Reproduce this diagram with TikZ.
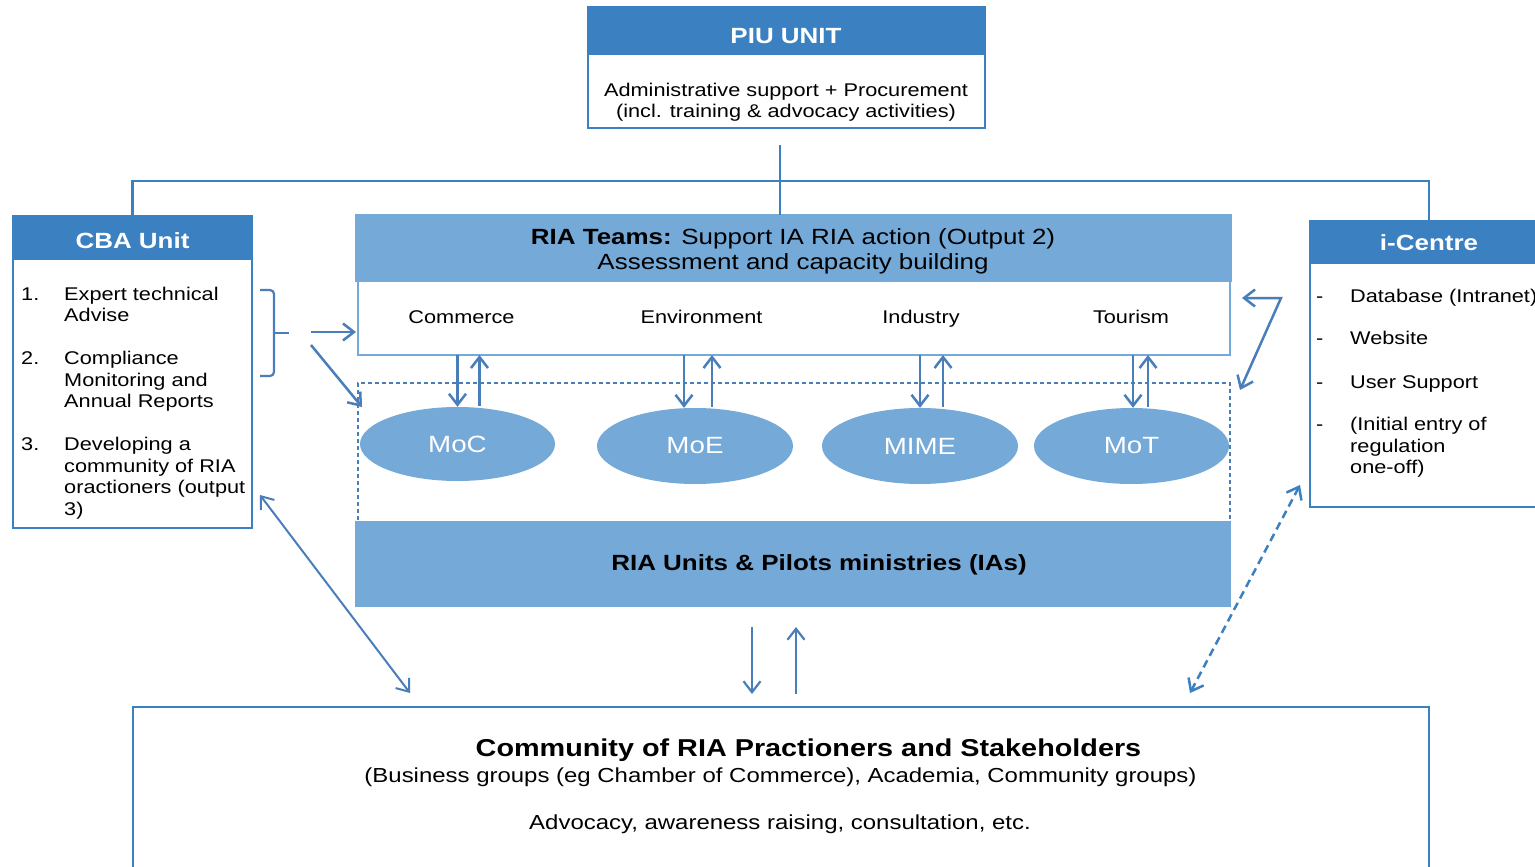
\documentclass[tikz,border=0pt]{standalone}
\usepackage{fontspec}
\setmainfont[FakeStretch=1.18]{Liberation Sans}
\usetikzlibrary{arrows.meta,shapes.geometric,calc}
\definecolor{hdr}{RGB}{59,128,193}
\definecolor{lite}{RGB}{117,169,215}
\definecolor{lnc}{RGB}{74,126,187}
\begin{document}
\begin{tikzpicture}[x=1pt,y=-1pt,
  box/.style={draw=hdr, line width=2.5pt, anchor=north west, inner sep=0pt, outer sep=0pt, fill=white},
  hbox/.style={box, fill=hdr},
  tree/.style={draw=hdr, line width=2.5pt},
  arr/.style={draw=lnc, line width=2.5pt, -{Straight Barb[length=11pt,width=17pt]}},
  arrb/.style={draw=lnc, line width=2.5pt, {Straight Barb[length=11pt,width=17pt]}-{Straight Barb[length=11pt,width=17pt]}},
  ell/.style={ellipse, fill=lite, draw=none, inner sep=0pt, text=white, font=\fontsize{23.5}{26}\selectfont},
  txt/.style={inner sep=0pt, font=\fontsize{18.4}{21.5}\selectfont},
  htxt/.style={inner sep=0pt, text=white, font=\bfseries\fontsize{22}{26}\selectfont},
  rtxt/.style={inner sep=0pt, font=\fontsize{22}{25}\selectfont},
  ctxt/.style={inner sep=0pt, font=\fontsize{20.3}{24}\selectfont}
]
\clip (0,0) rectangle (1535,867);
\fill[white] (0,0) rectangle (1535,867);

% PIU
\node[hbox, minimum width=397pt, minimum height=47pt] (piuh) at (588,7) {};
\node[box, minimum width=397pt, minimum height=74pt] (piub) at (588,54) {};
\node[htxt, anchor=base] (piut) at (786,44) {PIU UNIT};
\node[txt, anchor=base] (piu1) at (786,96.6) {Administrative support + Procurement};
\node[txt, anchor=base] (piu2) at (786,117.6) {(incl. training \& advocacy activities)};

% CBA
\node[hbox, minimum width=239pt, minimum height=43pt] (cbah) at (13,216) {};
\node[box, minimum width=239pt, minimum height=269pt] (cbab) at (13,259) {};
\node[htxt, anchor=base] (cbat) at (132.5,248) {CBA Unit};
\node[txt, anchor=base west] (cn1) at (21,300.6) {1.};
\node[txt, anchor=base west] (c11) at (64,300.6) {Expert technical};
\node[txt, anchor=base west] (c12) at (64,321.6) {Advise};
\node[txt, anchor=base west] (cn2) at (21,364.6) {2.};
\node[txt, anchor=base west] (c21) at (64,364.6) {Compliance};
\node[txt, anchor=base west] (c22) at (64,386.6) {Monitoring and};
\node[txt, anchor=base west] (c23) at (64,407.6) {Annual Reports};
\node[txt, anchor=base west] (cn3) at (21,450.6) {3.};
\node[txt, anchor=base west] (c31) at (64,450.6) {Developing a};
\node[txt, anchor=base west] (c32) at (64,472.2) {community of RIA};
\node[txt, anchor=base west] (c33) at (64,493.8) {oractioners (output};
\node[txt, anchor=base west] (c34) at (64,515.4) {3)};

% i-Centre
\node[hbox, minimum width=238pt, minimum height=42pt] (icenh) at (1310,221) {};
\node[box, minimum width=238pt, minimum height=244pt] (icenb) at (1310,263) {};
\node[htxt, anchor=base] (icent) at (1429,250) {i-Centre};
\node[txt, anchor=base west] (id1) at (1316,302.6) {-};
\node[txt, anchor=base west] (i1) at (1350,302.6) {Database (Intranet)};
\node[txt, anchor=base west] (id2) at (1316,344.6) {-};
\node[txt, anchor=base west] (i2) at (1350,344.6) {Website};
\node[txt, anchor=base west] (id3) at (1316,388.6) {-};
\node[txt, anchor=base west] (i3) at (1350,388.6) {User Support};
\node[txt, anchor=base west] (id4) at (1316,430.6) {-};
\node[txt, anchor=base west] (i41) at (1350,430.6) {(Initial entry of};
\node[txt, anchor=base west] (i42) at (1350,452.1) {regulation};
\node[txt, anchor=base west] (i43) at (1350,473.6) {one-off)};

% RIA teams
\node[box, draw=lite, fill=lite, line width=2pt, minimum width=875pt, minimum height=66pt] (riah) at (356,215) {};
\node[box, draw=lite, line width=2pt, minimum width=872pt, minimum height=74pt] (riab) at (358,281) {};
\node[rtxt, anchor=base] (riat1) at (793,244) {\textbf{RIA Teams:} Support IA RIA action (Output 2)};
\node[rtxt, anchor=base] (riat2) at (793,269) {Assessment and capacity building};
\node[txt, anchor=base] (s1) at (461.5,323) {Commerce};
\node[txt, anchor=base] (s2) at (701.5,323) {Environment};
\node[txt, anchor=base] (s3) at (921,323) {Industry};
\node[txt, anchor=base] (s4) at (1131,323) {Tourism};

% dashed ministries box
\node[box, draw=lnc, fill=none, line width=1.3pt, dash pattern=on 4pt off 3pt, minimum width=872pt, minimum height=139pt] (dashbox) at (358,383) {};
\node[ell, minimum width=195pt, minimum height=74pt] (moc) at (457.5,444) {MoC};
\node[ell, minimum width=196pt, minimum height=76pt] (moe) at (695,446) {MoE};
\node[ell, minimum width=196pt, minimum height=76pt] (mime) at (920,446) {MIME};
\node[ell, minimum width=195pt, minimum height=76pt] (mot) at (1131.5,446) {MoT};

% RIA units
\node[box, draw=none, fill=lite, minimum width=876pt, minimum height=86pt] (riau) at (355,521) {};
\node[inner sep=0pt, anchor=base, font=\bfseries\fontsize{22}{26}\selectfont] (riaut) at (819,570) {RIA Units \& Pilots ministries (IAs)};

% Community
\node[box, minimum width=1296pt, minimum height=175pt] (comm) at (133,707) {};
\node[inner sep=0pt, anchor=base, font=\bfseries\fontsize{24.4}{28}\selectfont] (comm1) at (808.5,756) {Community of RIA Practioners and Stakeholders};
\node[ctxt, anchor=base] (comm2) at (780.5,782) {(Business groups (eg Chamber of Commerce), Academia, Community groups)};
\node[ctxt, anchor=base] (comm3) at (780,829.3) {Advocacy, awareness raising, consultation, etc.};

% tree lines from PIU
\coordinate (stem) at (780,145);
\coordinate (bus) at (780,181);
\draw[tree] (stem) -- (stem |- riah.north);
\draw[tree] (cbah.north) |- (bus) -| (icenh.north);

% brace
\coordinate (brT) at (260,290);
\coordinate (brB) at (260,376);
\coordinate (brM) at (274,333);
\draw[draw=lnc, line width=2.2pt, rounded corners=4pt] (brT) -- (brT -| brM) -- (brB -| brM) -- (brB);
\draw[draw=lnc, line width=2.2pt] (brM) -- ++(15,0);

% CBA arrows
\coordinate (cbaA) at (311,332);
\coordinate (cbaB) at (311,345);
\draw[arr] (cbaA) -- ($(cbaA -| riab.west)+(-2,0)$);
\draw[arr] (cbaB) -- ($(dashbox.north west)+(4,24)$);
\draw[arrb, line width=2pt] ($(cbab.south east)+(8,-33)$) -- ($(comm.north west)+(277,-14)$);

% sector arrows
\draw[arr] (moc.north |- riab.south) -- (moc.north);
\draw[arr] ($(moc.north)+(22,-1)$) -- ($(moc.north |- riab.south)+(22,0)$);
\draw[arr] ($(moe.north |- riab.south)+(-11,0)$) -- ($(moe.north)+(-11,0)$);
\draw[arr] ($(moe.north)+(17,-1)$) -- ($(moe.north |- riab.south)+(17,0)$);
\draw[arr] (mime.north |- riab.south) -- (mime.north);
\draw[arr] ($(mime.north)+(23,-1)$) -- ($(mime.north |- riab.south)+(23,0)$);
\draw[arr] ($(mot.north |- riab.south)+(1.5,0)$) -- ($(mot.north)+(1.5,0)$);
\draw[arr] ($(mot.north)+(16.5,-1)$) -- ($(mot.north |- riab.south)+(16.5,0)$);

% centre arrows
\draw[arr, line width=2.2pt] ($(riau.south)+(-41,20)$) -- ($(comm.north)+(-29,-13)$);
\draw[arr, line width=2.2pt] ($(comm.north)+(15,-13)$) -- ($(riau.south)+(3,20)$);

% i-Centre arrows
\coordinate (icA) at (1281,298);
\draw[arrb] ($(riab.east)+(12,-20)$) -- (icA) -- ($(dashbox.north east)+(10,7)$);
\draw[arrb, draw=hdr, dash pattern=on 8pt off 5pt] ($(icenb.south west)+(-10,-22)$) -- ($(comm.north east)+(-239,-14)$);
\end{tikzpicture}
\end{document}
